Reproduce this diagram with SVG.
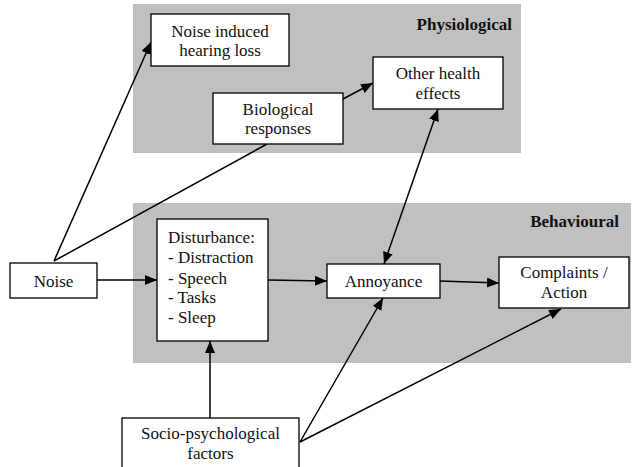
<svg xmlns="http://www.w3.org/2000/svg" width="633" height="467" viewBox="0 0 633 467">
<defs>
<marker id="ah" viewBox="0 0 12 10" refX="12" refY="5" markerWidth="12" markerHeight="10" markerUnits="userSpaceOnUse" orient="auto-start-reverse">
<path d="M0,0 L12,5 L0,10 Z" fill="#000"/>
</marker>
<style>
.panel{fill:#c0c0c0;}
.box{fill:#fff;stroke:#000;stroke-width:1.3;}
.t{font-size:17px;fill:#111;}
.c{text-anchor:middle;}
.b{font-weight:bold;text-anchor:end;}
.ln{stroke:#000;stroke-width:1.5;fill:none;}
</style>
</defs>
<rect width="633" height="467" fill="#fff"/>
<g font-family="Liberation Serif, Times New Roman, serif">
<g id="panel-physiological">
<rect class="panel" x="133" y="4" width="388" height="149"/>
<text class="t b" x="512" y="30">Physiological</text>
</g>
<g id="panel-behavioural">
<rect class="panel" x="133" y="203" width="498" height="160"/>
<text class="t b" x="619" y="227">Behavioural</text>
</g>
<g id="connectors">
<line class="ln" x1="54" y1="261" x2="151" y2="42" marker-end="url(#ah)"/>
<line class="ln" x1="54" y1="261" x2="267" y2="144"/>
<line class="ln" x1="343" y1="99" x2="373" y2="83" marker-end="url(#ah)"/>
<line class="ln" x1="438" y1="109" x2="384" y2="264" marker-start="url(#ah)" marker-end="url(#ah)"/>
<line class="ln" x1="97" y1="280" x2="157" y2="280" stroke-width="2.5" marker-end="url(#ah)"/>
<line class="ln" x1="268" y1="280" x2="327" y2="281" marker-end="url(#ah)"/>
<line class="ln" x1="440" y1="281" x2="499" y2="283" marker-end="url(#ah)"/>
<line class="ln" x1="210" y1="418" x2="210" y2="341" marker-end="url(#ah)"/>
<line class="ln" x1="300" y1="442" x2="383" y2="298" marker-end="url(#ah)"/>
<line class="ln" x1="300" y1="442" x2="561" y2="309" marker-end="url(#ah)"/>
</g>
<g id="node-nihl">
<rect class="box" x="151" y="14" width="138" height="52"/>
<text class="t c" x="220" y="37">Noise induced</text>
<text class="t c" x="220" y="56">hearing loss</text>
</g>
<g id="node-biological">
<rect class="box" x="213" y="93" width="130" height="51"/>
<text class="t c" x="278" y="115">Biological</text>
<text class="t c" x="278" y="134">responses</text>
</g>
<g id="node-other-health">
<rect class="box" x="373" y="57" width="130" height="52"/>
<text class="t c" x="438" y="79">Other health</text>
<text class="t c" x="438" y="99">effects</text>
</g>
<g id="node-noise">
<rect class="box" x="10" y="263" width="87" height="35"/>
<text class="t c" x="53.5" y="287">Noise</text>
</g>
<g id="node-disturbance">
<rect class="box" x="157" y="219" width="111" height="122"/>
<text class="t" x="168" y="243">Disturbance:</text>
<text class="t" x="168" y="263">- Distraction</text>
<text class="t" x="168" y="284">- Speech</text>
<text class="t" x="168" y="303">- Tasks</text>
<text class="t" x="168" y="323">- Sleep</text>
</g>
<g id="node-annoyance">
<rect class="box" x="327" y="264" width="113" height="34"/>
<text class="t c" x="383.5" y="287">Annoyance</text>
</g>
<g id="node-complaints">
<rect class="box" x="499" y="257" width="130" height="51"/>
<text class="t c" x="564" y="278">Complaints /</text>
<text class="t c" x="564" y="298">Action</text>
</g>
<g id="node-socio">
<rect class="box" x="122" y="418" width="177" height="60"/>
<text class="t c" x="210.5" y="439">Socio-psychological</text>
<text class="t c" x="210.5" y="459">factors</text>
</g>
</g>
</svg>
